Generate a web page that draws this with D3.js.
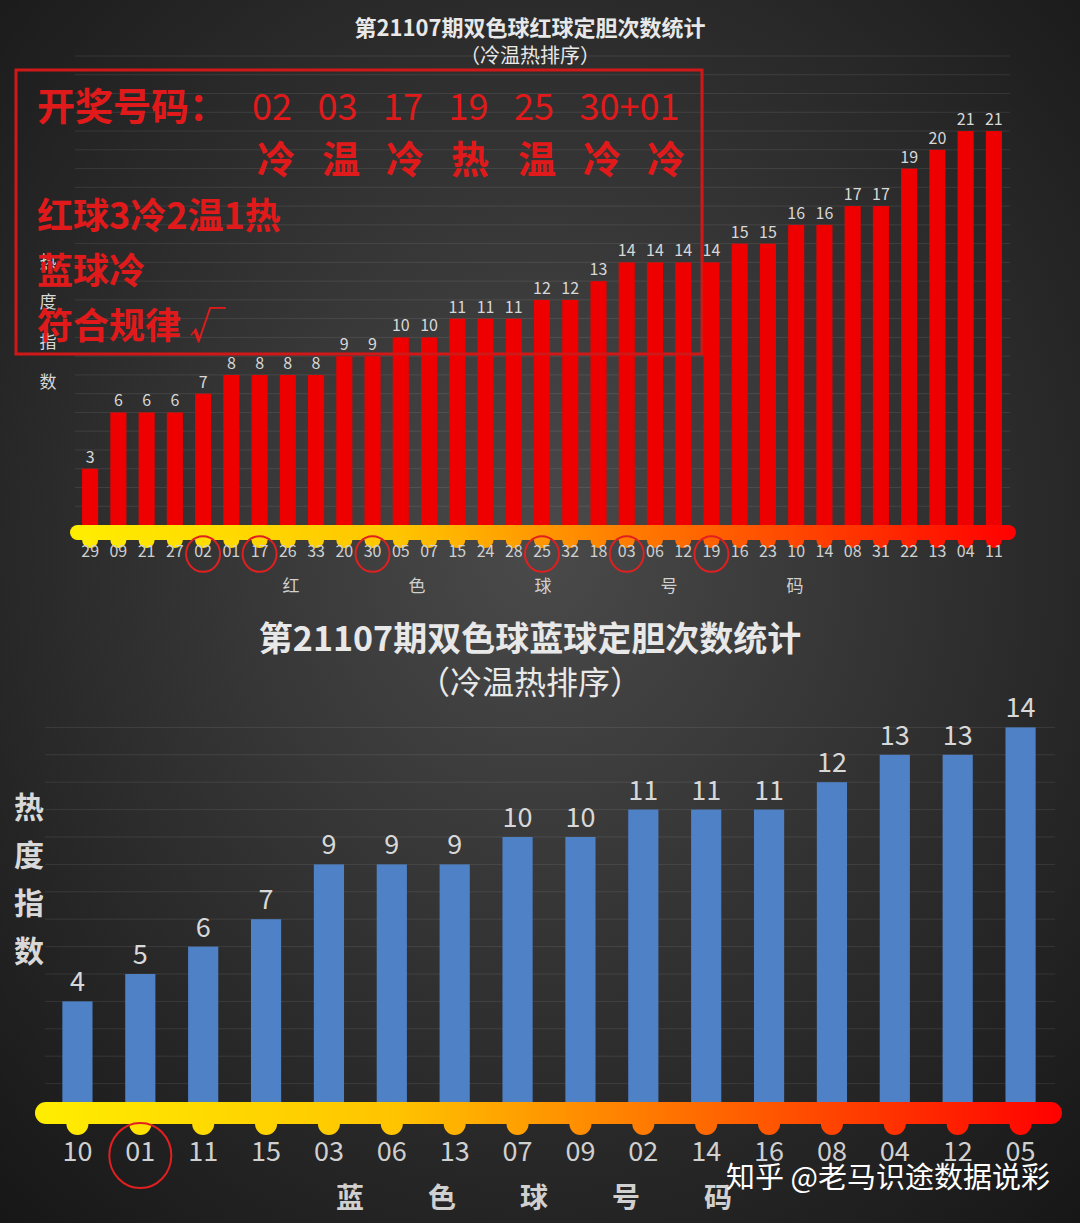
<!DOCTYPE html><html><head><meta charset="utf-8"><script src="https://cdn.jsdelivr.net/npm/d3@7"></script>
<style>body{margin:0;background:#222}</style></head><body><svg id="c" width="1080" height="1223"></svg>
<script>
const redLabels=["29","09","21","27","02","01","17","26","33","20","30","05","07","15","24","28","25","32","18","03","06","12","19","16","23","10","14","08","31","22","13","04","11"];
const redValues=[3,6,6,6,7,8,8,8,8,9,9,10,10,11,11,11,12,12,13,14,14,14,14,15,15,16,16,17,17,19,20,21,21];
const redCircled=["02","17","30","25","03","19"];
const blueLabels=["10","01","11","15","03","06","13","07","09","02","14","16","08","04","12","05"];
const blueValues=[4,5,6,7,9,9,9,10,10,11,11,11,12,13,13,14];
const blueCircled=["01"];
const axisWordsRed=["红","色","球","号","码"];
const axisWordsBlue=["蓝","色","球","号","码"];
const font="'Noto Sans CJK SC','Noto Sans',sans-serif";
const svg=d3.select("#c");
const defs=svg.append("defs");
const bg=defs.append("radialGradient").attr("id","bg").attr("cx","50%").attr("cy","45%").attr("r","75%");
bg.append("stop").attr("offset","0%").attr("stop-color","#4a4a4a");
bg.append("stop").attr("offset","100%").attr("stop-color","#161616");
svg.append("rect").attr("width",1080).attr("height",1223).attr("fill","url(#bg)");

function chart(o){
  const ag=defs.append("linearGradient").attr("id",o.id).attr("gradientUnits","userSpaceOnUse")
    .attr("x1",o.ax0).attr("x2",o.ax1).attr("y1",0).attr("y2",0);
  [["0%","#ffee00"],["35%","#ffc400"],["65%","#ff6a00"],["100%","#ff0000"]].forEach(s=>ag.append("stop").attr("offset",s[0]).attr("stop-color",s[1]));
  const g=svg.append("g");
  const x=d3.scaleBand().domain(o.labels).range([o.x0,o.x1]).paddingInner(o.pad).paddingOuter(o.pad/2);
  const y=d3.scaleLinear().domain([0,o.ymax]).range([o.base,o.base-o.ymax*o.unit]);
  g.selectAll(".gl").data(d3.range(1,o.ymax+1)).join("line").attr("x1",o.gx0).attr("x2",o.gx1)
   .attr("y1",d=>y(d)).attr("y2",d=>y(d)).attr("stroke","#ffffff").attr("stroke-opacity",0.09);
  g.selectAll(".b").data(o.values).join("rect").attr("x",(d,i)=>x(o.labels[i])).attr("width",x.bandwidth())
   .attr("y",d=>y(d)).attr("height",d=>o.base-y(d)).attr("fill",o.color);
  g.selectAll(".v").data(o.values).join("text").attr("x",(d,i)=>x(o.labels[i])+x.bandwidth()/2).attr("y",d=>y(d)-o.vgap)
   .attr("text-anchor","middle").attr("fill","#d8d8d8").attr("font-size",o.vfs).attr("font-family",font).text(d=>d);
  const fill=`url(#${o.id})`;
  g.append("rect").attr("x",o.ax0).attr("y",o.ay).attr("width",o.ax1-o.ax0).attr("height",o.ah).attr("rx",o.ah/2).attr("fill",fill);
  g.selectAll(".bump").data(o.labels).join("circle").attr("cx",d=>x(d)+x.bandwidth()/2).attr("cy",o.ay+o.ah).attr("r",o.br).attr("fill",fill);
  g.append("g").attr("transform",`translate(0,${o.ly})`).call(d3.axisBottom(x).tickSize(0).tickPadding(0)).call(a=>{a.select(".domain").remove();
    a.selectAll("text").attr("fill","#d0d0d0").attr("font-size",o.lfs).attr("font-family",font);});
  g.selectAll(".circ").data(o.circled).join("ellipse").attr("cx",d=>x(d)+x.bandwidth()/2).attr("cy",o.ly+o.lfs*0.5)
   .attr("rx",o.cr).attr("ry",o.cr*1.05).attr("fill","none").attr("stroke","#e02020").attr("stroke-width",2);
  g.selectAll(".w").data(o.words).join("text").attr("x",(d,i)=>o.wx0+i*o.wdx).attr("y",o.wy).attr("text-anchor","middle")
   .attr("fill","#d0d0d0").attr("font-size",o.wfs).attr("font-weight",o.wfw).attr("font-family",font).text(d=>d);
  g.selectAll(".yl").data(["热","度","指","数"]).join("text").attr("x",o.ylx).attr("y",(d,i)=>o.yly+i*o.yldy)
   .attr("text-anchor","middle").attr("fill","#d8d8d8").attr("font-size",o.ylfs).attr("font-weight",o.wfw).attr("font-family",font).text(d=>d);
}
chart({id:"axr",labels:redLabels,values:redValues,circled:redCircled,color:"#ee0000",x0:76,x1:1008,pad:0.43,ymax:25,base:525,unit:18.76,
  gx0:75,gx1:1010,vgap:6,vfs:16,ax0:70,ax1:1016,ay:525,ah:15,br:8,ly:546,lfs:16,cr:17,words:axisWordsRed,wx0:291,wdx:126,wy:592,wfs:17,wfw:400,
  ylx:48,yly:268,yldy:40,ylfs:17});
chart({id:"axb",labels:blueLabels,values:blueValues,circled:blueCircled,color:"#4f81c7",x0:46,x1:1052,pad:0.52,ymax:14,base:1111,unit:27.4,
  gx0:45,gx1:1055,vgap:10,vfs:27,ax0:35,ax1:1062,ay:1102,ah:22,br:11,ly:1142,lfs:27,cr:31,words:axisWordsBlue,wx0:350,wdx:92,wy:1208,wfs:28,wfw:700,
  ylx:29,yly:818,yldy:48,ylfs:30});
svg.append("text").attr("x",530).attr("y",36).attr("text-anchor","middle").attr("fill","#e8e8e8").attr("font-size",22).attr("font-weight",700).attr("font-family",font).text("第21107期双色球红球定胆次数统计");
svg.append("text").attr("x",530).attr("y",63).attr("text-anchor","middle").attr("fill","#e8e8e8").attr("font-size",20).attr("font-family",font).text("（冷温热排序）");
svg.append("text").attr("x",530).attr("y",651).attr("text-anchor","middle").attr("fill","#e8e8e8").attr("font-size",34).attr("font-weight",700).attr("font-family",font).text("第21107期双色球蓝球定胆次数统计");
svg.append("text").attr("x",530).attr("y",694).attr("text-anchor","middle").attr("fill","#e8e8e8").attr("font-size",32).attr("font-family",font).text("（冷温热排序）");
svg.append("rect").attr("x",16).attr("y",70).attr("width",686).attr("height",284).attr("fill","none").attr("stroke","#d01818").attr("stroke-width",3);
const ann=svg.append("g").attr("fill","#e01a1a").attr("font-family",font).attr("font-weight",700);
ann.append("text").attr("x",37).attr("y",120).attr("font-size",38).text("开奖号码：");
const nums=["02","03","17","19","25","30+01"], temps=["冷","温","冷","热","温","冷","冷"];
ann.selectAll(".n").data(nums).join("text").attr("x",(d,i)=>252+i*65.5).attr("y",120).attr("font-size",36).attr("font-weight",400).text(d=>d);
ann.selectAll(".t").data(temps).join("text").attr("x",(d,i)=>[276,341,405,470,537,602,666][i]).attr("y",173).attr("text-anchor","middle").attr("font-size",38).text(d=>d);
ann.append("text").attr("x",37).attr("y",229).attr("font-size",36).text("红球3冷2温1热");
ann.append("text").attr("x",37).attr("y",284).attr("font-size",36).text("蓝球冷");
ann.append("text").attr("x",37).attr("y",339).attr("font-size",36).text("符合规律 √");
svg.append("text").attr("x",1050).attr("y",1188).attr("text-anchor","end").attr("fill","#ffffff").attr("font-size",29).attr("font-family",font).text("知乎 @老马识途数据说彩");
</script></body></html>
